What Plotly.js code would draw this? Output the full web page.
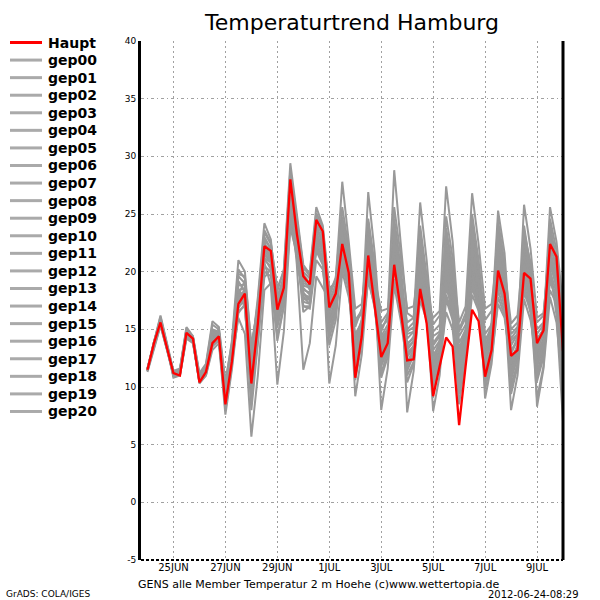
<!DOCTYPE html>
<html>
<head>
<meta charset="utf-8">
<script src="https://cdn.plot.ly/plotly-3.0.1.min.js"></script>
<style>html,body{margin:0;padding:0;background:#fff;}#chart{width:600px;height:600px;}</style>
</head>
<body>
<div id="chart"></div>
<script>
// Time axis: 6-hourly from 2012-06-24 00Z
const startTime = '2012-06-24T00:00:00';
const stepHours = 6;
const nSteps = 65;

const tickDates = ['2012-06-25','2012-06-27','2012-06-29','2012-07-01','2012-07-03','2012-07-05','2012-07-07','2012-07-09'];
const tickLabels = ['25JUN','27JUN','29JUN','1JUL','3JUL','5JUL','7JUL','9JUL'];
const yTicks = [-5,0,5,10,15,20,25,30,35,40];
const yTickLabels = ['-5','0','5','10','15','20','25','30','35','40'];

const haupt = [11.5,13.8,15.6,13.4, 11.2,11.0,14.7,14.2, 10.4,11.3,13.8,14.4, 8.5,12.2,17.2,18.1,
  10.3,15.5,22.2,21.8, 16.7,18.6,28.0,23.3, 19.6,18.9,24.5,23.5, 16.9,18.1,22.4,19.9,
  10.8,14.4,21.4,17.0, 12.6,13.8,20.6,16.7, 12.3,12.4,18.5,15.5, 9.2,11.8,14.3,13.5,
  6.7,11.8,16.7,15.7, 10.9,13.2,20.1,18.1, 12.7,13.2,19.9,19.4, 13.8,14.9,22.4,21.3, 13.1];

const gep00 = [11.5,13.9,15.9,13.6, 11.0,11.3,14.8,14.1, 10.9,11.6,14.5,14.6, 9.2,13.0,18.5,17.6, 11.4,15.0,21.0,20.5, 15.8,18.0,26.5,22.4, 18.2,17.5,23.0,21.6, 15.4,16.8,21.5,19.2, 12.6,14.8,22.5,18.3, 13.5,14.2,23.4,18.6, 13.0,13.5,20.2,17.1, 11.5,12.9,19.5,16.0, 8.5,12.6,21.8,18.3, 13.1,14.5,22.4,19.0, 14.6,15.2,21.6,18.5, 12.4,13.8,20.8,18.9, 14.0];
const gep01 = [11.4,13.5,15.4,13.3, 11.3,11.1,14.4,13.9, 10.5,11.2,13.9,14.0, 8.9,12.5,17.8,18.4, 12.0,16.2,22.6,21.0, 17.5,19.4,27.2,23.8, 19.8,19.0,24.6,22.9, 17.4,18.9,24.0,20.6, 13.4,15.5,24.3,20.1, 14.8,16.2,28.8,22.5, 16.4,16.0,22.8,18.2, 12.5,13.8,21.2,17.6, 11.2,14.0,19.5,17.2, 12.0,13.0,18.4,16.5, 11.1,12.4,19.0,16.4, 10.5,12.6,19.6,17.0, 11.8];
const gep02 = [11.6,13.8,16.1,13.7, 11.2,11.5,15.1,14.3, 11.0,11.8,15.0,14.8, 9.8,13.5,19.6,19.0, 13.0,17.4,23.6,22.5, 18.3,20.2,29.4,25.0, 20.6,19.8,25.1,23.8, 18.0,19.5,25.6,22.0, 15.2,16.8,23.5,19.8, 12.0,13.5,21.8,18.0, 11.4,12.8,19.0,16.2, 10.5,12.5,22.4,19.5, 14.8,16.0,20.5,18.8, 14.2,14.8,19.7,17.5, 8.0,11.0,17.6,15.8, 12.2,13.5,23.2,20.4, 15.5];
const gep03 = [11.5,13.6,15.6,13.4, 10.8,11.0,14.2,13.8, 10.4,11.0,13.5,14.1, 8.6,12.0,18.0,19.2, 12.8,17.8,24.2,22.8, 17.0,18.8,26.0,22.0, 16.5,17.0,22.2,20.8, 14.8,16.2,22.8,19.5, 11.6,14.0,20.4,17.5, 11.8,13.2,24.6,20.4, 15.0,15.6,24.0,19.6, 13.6,14.4,20.5,17.8, 12.2,14.6,23.5,19.9, 11.5,13.2,21.4,18.2, 10.2,12.0,18.6,17.0, 9.0,11.8,20.4,16.2, 7.0];
const gep04 = [11.3,13.4,15.3,13.2, 11.0,11.4,14.9,14.2, 10.8,11.5,14.0,14.2, 8.8,12.6,17.4,17.8, 10.0,14.5,20.5,20.0, 15.2,17.6,25.4,21.8, 17.0,16.8,21.0,20.2, 15.8,17.5,23.6,20.0, 9.2,12.8,19.6,16.8, 12.4,13.9,22.0,18.0, 11.0,12.2,17.5,15.8, 10.2,12.0,16.5,15.0, 9.4,12.4,18.0,16.6, 12.5,14.0,23.8,20.2, 15.5,16.2,22.6,19.8, 14.2,15.0,19.5,17.8, 10.6];
const gep05 = [11.6,14.0,16.2,13.8, 11.4,11.6,15.2,14.4, 11.1,11.9,15.4,15.0, 10.2,14.0,21.0,20.0, 13.5,16.8,21.5,20.8, 16.2,18.4,25.0,21.4, 17.6,17.9,23.8,22.4, 16.6,17.6,20.4,18.6, 14.0,15.2,21.0,18.4, 15.6,16.4,20.0,17.6, 14.6,14.8,21.5,18.0, 12.8,13.6,24.8,21.2, 13.8,15.0,22.0,19.5, 13.0,15.6,25.3,21.6, 13.6,14.6,20.8,18.0, 11.4,13.0,18.4,17.2, 12.4];
const gep06 = [11.4,13.7,15.8,13.5, 11.1,11.2,14.5,14.0, 10.6,11.3,14.4,14.5, 9.0,12.8,18.8,18.9, 11.8,16.0,22.0,21.4, 17.8,19.6,28.2,24.4, 20.2,20.0,25.6,24.0, 18.6,19.0,23.0,20.4, 12.2,14.6,19.2,17.0, 10.8,12.6,19.4,16.6, 12.6,13.4,18.0,16.4, 11.0,12.8,18.6,16.8, 10.6,13.5,24.2,20.6, 15.8,16.6,21.0,18.8, 12.2,13.4,24.0,20.2, 8.3,11.6,17.8,15.6, 9.8];
const gep07 = [11.5,13.8,15.5,13.3, 11.2,11.3,14.6,14.1, 10.3,11.0,13.2,13.8, 7.6,11.5,16.4,17.2, 8.0,13.8,20.0,19.6, 14.4,17.0,24.4,21.2, 17.8,17.2,22.4,21.0, 16.0,17.4,21.8,19.0, 13.0,15.0,23.2,19.2, 13.2,14.6,20.8,17.4, 13.8,14.2,22.4,18.6, 9.6,12.2,19.8,17.0, 12.4,14.2,18.6,16.8, 10.4,12.6,17.2,16.0, 11.8,13.0,21.2,18.4, 15.0,15.6,21.5,19.6, 13.6];
const gep08 = [11.5,13.6,15.7,13.6, 11.3,11.4,14.7,14.2, 10.8,11.6,14.8,14.7, 9.5,13.2,19.2,18.2, 9.2,14.0,19.5,20.2, 16.0,18.2,27.0,23.6, 18.8,18.6,24.0,22.6, 15.0,16.6,20.8,18.8, 14.6,15.6,22.0,18.8, 12.8,14.0,23.0,19.0, 15.6,16.0,26.0,21.0, 14.4,14.8,21.8,18.6, 11.6,13.6,20.2,17.8, 11.0,13.0,19.4,17.2, 13.2,14.0,20.0,17.8, 13.0,14.2,24.6,21.8, 16.2];
const gep09 = [11.4,13.9,15.9,13.6, 10.9,11.0,14.3,13.9, 10.6,11.5,14.6,14.4, 8.8,12.4,17.0,17.4, 10.8,15.2,21.6,21.0, 16.4,18.4,26.8,20.6, 11.5,13.8,19.6,18.6, 17.6,18.6,24.8,21.4, 15.6,16.4,20.6,18.2, 14.2,15.0,21.2,18.4, 10.4,12.0,20.8,17.6, 14.8,15.4,23.4,19.8, 9.6,12.8,19.0,17.0, 12.8,14.2,18.8,17.4, 14.0,14.6,23.2,20.8, 10.8,12.8,21.2,19.0, 11.0];
const gep10 = [11.5,13.5,15.5,13.4, 11.1,11.2,14.8,14.3, 10.7,11.4,14.1,14.3, 8.2,12.1,16.8,17.8, 9.6,15.4,22.8,22.0, 17.2,19.0,27.6,23.2, 19.4,18.4,23.4,22.0, 16.4,17.8,22.0,19.6, 11.4,14.2,22.8,18.6, 8.0,11.6,18.8,15.8, 12.0,13.0,19.6,16.8, 12.0,13.2,17.8,16.4, 13.0,14.8,25.0,21.0, 14.6,15.4,21.8,18.6, 9.4,11.8,19.4,17.2, 12.8,14.0,20.0,18.2, 12.0];
const gep11 = [11.6,13.8,15.8,13.5, 11.0,11.1,14.4,14.0, 10.5,11.2,13.6,14.0, 8.4,12.3,16.0,14.6, 5.7,11.0,18.4,19.0, 14.0,17.0,23.8,21.6, 18.0,17.6,22.6,21.2, 17.2,18.2,23.4,20.8, 13.8,15.4,20.0,17.6, 13.8,14.8,25.6,21.4, 16.8,17.0,21.2,18.4, 11.8,13.2,18.0,16.2, 10.2,13.0,21.0,18.0, 12.2,13.8,20.6,18.4, 12.8,14.4,25.8,22.0, 16.0,16.4,22.0,19.2, 13.0];
const gep12 = [11.5,13.7,15.6,13.5, 11.2,11.3,14.5,14.1, 10.9,11.7,14.9,14.8, 9.6,13.4,19.8,19.6, 13.6,17.0,23.0,22.0, 17.4,19.2,26.4,22.8, 18.4,18.2,23.6,22.8, 17.8,19.4,27.8,22.6, 16.8,17.2,21.6,19.0, 13.4,15.0,22.6,18.8, 12.2,13.2,23.2,19.4, 15.4,16.2,20.2,18.2, 12.8,14.4,22.6,19.0, 9.8,12.4,21.0,18.6, 12.4,13.6,20.4,18.0, 11.0,13.2,19.2,17.6, 14.6];
const gep13 = [11.4,13.6,15.4,13.3, 11.1,11.5,15.0,14.4, 11.2,12.0,15.7,15.2, 10.5,13.8,18.2,17.0, 9.4,14.6,21.2,20.8, 16.6,18.6,25.8,22.2, 17.4,17.2,21.8,20.6, 13.6,15.8,22.2,19.4, 12.8,14.6,21.8,18.4, 14.4,15.4,24.2,20.0, 7.8,11.4,18.8,16.4, 13.2,14.0,22.6,19.0, 14.4,15.4,19.8,17.6, 11.8,13.4,22.8,19.6, 10.6,12.6,18.2,16.6, 14.6,15.4,24.0,21.0, 15.0];
const gep14 = [11.6,13.9,15.9,13.7, 11.3,11.4,14.6,14.0, 10.6,11.4,14.3,14.4, 9.0,12.7,17.6,17.9, 10.6,15.0,20.8,18.8, 10.2,14.8,24.0,22.0, 17.0,17.0,22.8,21.8, 16.2,17.0,21.2,18.8, 10.6,13.8,23.8,19.6, 15.2,15.8,20.4,17.8, 13.4,14.0,19.2,17.0, 11.2,13.0,21.6,18.2, 12.0,13.8,23.0,19.6, 13.6,15.0,24.4,20.8, 11.4,13.0,19.6,17.4, 13.4,15.2,25.6,22.6, 17.0];
const gep15 = [11.5,13.8,15.8,13.6, 11.2,11.3,14.7,14.2, 10.7,11.5,14.5,14.6, 9.4,13.1,18.4,18.6, 12.4,16.4,22.4,21.6, 16.9,18.9,27.6,24.0, 19.0,18.8,23.2,22.2, 16.8,17.8,20.6,18.4, 12.0,14.4,21.2,18.0, 12.2,13.6,23.8,19.6, 14.2,14.8,20.6,17.4, 12.2,13.6,23.8,20.4, 15.6,17.0,26.8,22.4, 16.8,17.2,22.0,19.2, 13.0,14.0,21.8,19.0, 12.6,14.0,22.6,20.0, 12.8];
const gep16 = [11.4,13.7,15.7,13.4, 11.0,11.2,14.4,13.9, 10.6,11.3,14.0,14.2, 8.6,12.2,17.2,17.6, 10.2,15.6,22.4,21.8, 17.6,19.2,28.6,24.2, 20.0,19.4,24.2,23.2, 17.0,18.4,22.6,20.2, 11.0,14.0,22.0,17.8, 11.2,13.0,21.6,17.2, 11.8,12.6,19.8,16.6, 7.9,11.0,17.6,15.8, 11.0,13.2,20.8,18.2, 14.0,15.2,23.0,20.0, 9.8,12.0,22.4,19.4, 14.0,15.0,20.8,18.6, 8.6];
const gep17 = [11.5,13.6,15.6,13.5, 11.1,11.3,14.8,14.2, 10.8,11.6,14.6,14.6, 9.2,12.9,18.0,18.0, 11.0,15.8,21.8,21.2, 16.2,18.4,26.2,22.6, 18.6,18.0,23.4,21.6, 10.3,13.6,20.0,17.8, 14.2,15.8,24.6,20.6, 13.0,14.4,22.2,18.2, 12.8,13.6,21.8,18.0, 13.8,14.6,20.8,17.6, 10.0,12.8,21.4,18.6, 12.4,14.2,19.0,17.0, 11.0,12.8,22.8,20.0, 11.8,13.4,23.8,20.8, 13.4];
const gep18 = [11.5,13.9,15.7,13.5, 11.2,11.4,14.6,14.1, 10.6,11.3,14.2,14.3, 8.7,12.4,17.6,18.2, 11.2,16.6,23.4,22.4, 18.6,20.0,28.8,24.6, 20.4,19.6,24.8,23.4, 18.4,19.2,24.4,21.6, 15.8,16.6,22.6,19.4, 16.6,16.8,21.4,18.6, 14.8,15.2,22.6,19.2, 12.4,14.0,20.0,17.4, 13.4,14.8,21.6,19.2, 9.0,12.0,17.8,16.2, 14.2,15.0,21.4,19.2, 12.0,13.6,21.8,19.4, 15.8];
const gep19 = [11.4,13.7,15.6,13.4, 11.0,11.2,14.5,14.0, 10.4,11.1,13.8,14.0, 8.0,11.8,16.6,17.0, 9.0,14.8,21.4,21.2, 16.8,18.8,27.0,23.0, 18.0,17.8,22.8,21.8, 14.2,16.4,23.2,20.0, 13.6,15.8,26.9,21.6, 14.0,15.0,22.8,19.0, 13.6,14.4,21.0,17.8, 10.8,12.6,19.0,16.6, 11.4,13.6,22.2,19.0, 12.6,13.8,20.0,18.0, 12.0,13.4,23.6,20.6, 13.2,14.6,21.0,18.8, 10.2];
const gep20 = [11.6,13.8,15.9,13.6, 11.3,11.5,14.9,14.3, 10.9,11.7,14.7,14.8, 9.6,13.6,20.2,19.4, 12.6,16.0,21.2,20.2, 15.4,17.8,25.6,22.0, 17.6,17.6,22.0,21.0, 15.6,17.0,21.0,19.0, 13.2,15.0,20.8,17.8, 12.6,14.2,20.6,17.6, 13.2,14.0,20.0,17.6, 16.0,16.6,27.4,22.6, 15.0,16.4,21.2,19.0, 13.4,14.6,21.6,19.2, 15.0,15.6,20.6,18.6, 15.6,16.2,23.0,20.6, 14.8];

const memberNames = ['gep00','gep01','gep02','gep03','gep04','gep05','gep06','gep07','gep08','gep09','gep10',
  'gep11','gep12','gep13','gep14','gep15','gep16','gep17','gep18','gep19','gep20'];
const memberValues = [gep00,gep01,gep02,gep03,gep04,gep05,gep06,gep07,gep08,gep09,gep10,
  gep11,gep12,gep13,gep14,gep15,gep16,gep17,gep18,gep19,gep20];

const hauptColor = '#ff0000';
const memberColor = '#999999';
const legendMemberColor = '#aaaaaa';

// build time stamps
const t0 = new Date(startTime + 'Z').getTime();
const times = [];
for (let i = 0; i < nSteps; i++) {
  const d = new Date(t0 + i * stepHours * 3600 * 1000);
  times.push(d.toISOString().slice(0, 19).replace('T', ' '));
}

const traces = [];
memberValues.forEach((vals, k) => {
  traces.push({x: times, y: vals, type: 'scatter', mode: 'lines', name: memberNames[k],
    line: {color: memberColor, width: 2}, showlegend: false, hoverinfo: 'skip'});
});
traces.push({x: times, y: haupt, type: 'scatter', mode: 'lines', name: 'Haupt',
  line: {color: hauptColor, width: 2.3}, showlegend: false});

// figure geometry (pixels)
const W = 600, H = 600, L = 141, R = 563, T = 41, B = 560;
const px = v => (v - L) / (R - L);
const py = v => (B - v) / (B - T);

const shapes = [];
const annotations = [];
// borders
shapes.push({type: 'line', xref: 'paper', yref: 'paper', x0: 1, x1: 1, y0: 0, y1: 1, line: {color: '#000', width: 3}});
shapes.push({type: 'line', xref: 'paper', yref: 'paper', x0: 0, x1: 1, y0: 0, y1: 0, line: {color: '#000', width: 2, dash: '3px,2px'}});

// custom legend
const legendNames = ['Haupt'].concat(memberNames);
legendNames.forEach((nm, k) => {
  const yc = 42.5 + 17.57 * k;
  shapes.push({type: 'line', xref: 'paper', yref: 'paper', x0: px(10), x1: px(42), y0: py(yc), y1: py(yc),
    line: {color: k === 0 ? hauptColor : legendMemberColor, width: 3}});
  annotations.push({xref: 'paper', yref: 'paper', x: px(46), y: py(yc), xanchor: 'left', yanchor: 'middle',
    text: nm, showarrow: false, font: {family: 'DejaVu Sans', size: 14, color: '#000', weight: 'bold'}});
});

annotations.push({xref: 'paper', yref: 'paper', x: px(318), y: py(584), xanchor: 'center', yanchor: 'middle',
  text: 'GENS alle Member Temperatur 2 m Hoehe (c)www.wettertopia.de', showarrow: false,
  font: {family: 'DejaVu Sans', size: 11, color: '#000'}});
annotations.push({xref: 'paper', yref: 'paper', x: px(4), y: py(594), xanchor: 'left', yanchor: 'middle',
  text: 'GrADS: COLA/IGES', showarrow: false, font: {family: 'DejaVu Sans', size: 9, color: '#000'}});
annotations.push({xref: 'paper', yref: 'paper', x: px(581), y: py(594), xanchor: 'right', yanchor: 'middle',
  text: '2012-06-24-08:29', showarrow: false, font: {family: 'DejaVu Sans', size: 10, color: '#000'}});

const layout = {
  width: W, height: H,
  margin: {l: L, r: W - R, t: T, b: H - B, pad: 0},
  paper_bgcolor: '#ffffff', plot_bgcolor: '#ffffff',
  showlegend: false,
  title: {text: 'Temperaturtrend Hamburg', xref: 'paper', x: 0.5, xanchor: 'center',
    yref: 'container', y: 1 - 22 / H, yanchor: 'middle',
    font: {family: 'DejaVu Sans', size: 22, color: '#000'}},
  xaxis: {type: 'date', range: ['2012-06-23 18:00', '2012-07-10 00:00'],
    tickvals: tickDates, ticktext: tickLabels, tickfont: {family: 'DejaVu Sans', size: 10, color: '#000'},
    showgrid: true, gridcolor: '#a0a0a0', gridwidth: 1, griddash: '2px,3px',
    zeroline: false, showline: false, ticks: '', fixedrange: true},
  yaxis: {range: [-5, 40], tickvals: yTicks, ticktext: yTickLabels,
    tickfont: {family: 'DejaVu Sans', size: 9, color: '#000'},
    showgrid: true, gridcolor: '#a0a0a0', gridwidth: 1, griddash: '3px,3px,1px,3px',
    zeroline: false, showline: true, linecolor: '#000', linewidth: 3, ticks: '', fixedrange: true},
  shapes: shapes,
  annotations: annotations
};

Plotly.newPlot('chart', traces, layout, {displayModeBar: false, staticPlot: true});
</script>
</body>
</html>
